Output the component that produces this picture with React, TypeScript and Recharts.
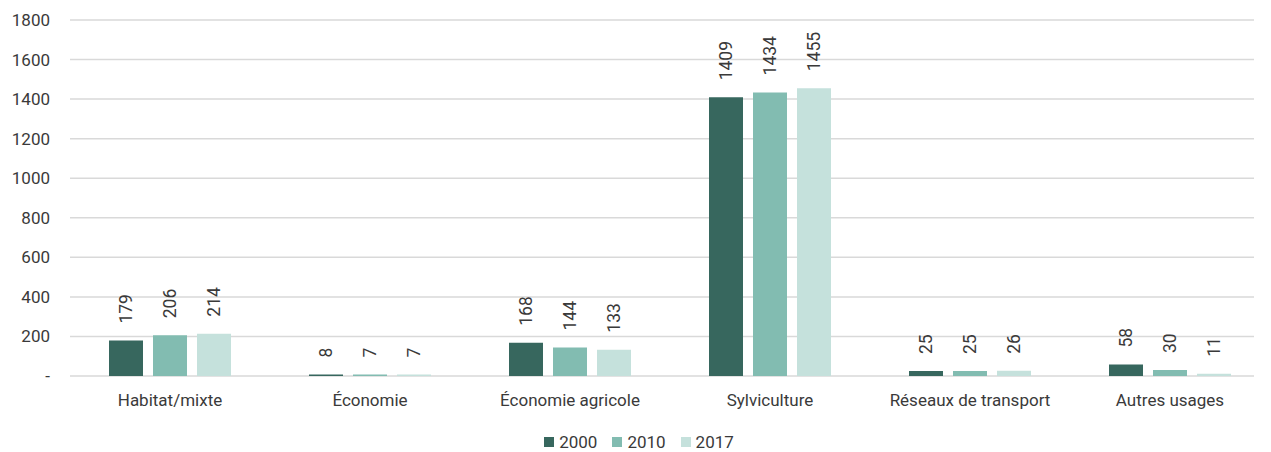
import { BarChart, Bar, XAxis, YAxis, CartesianGrid, Legend, LabelList } from 'recharts';

const categories = [
  'Habitat/mixte',
  'Économie',
  'Économie agricole',
  'Sylviculture',
  'Réseaux de transport',
  'Autres usages',
];
const values2000 = [179, 8, 168, 1409, 25, 58];
const values2010 = [206, 7, 144, 1434, 25, 30];
const values2017 = [214, 7, 133, 1455, 26, 11];
const yTicks = [0, 200, 400, 600, 800, 1000, 1200, 1400, 1600, 1800];

const data = categories.map((name, i) => ({
  name,
  y2000: values2000[i],
  y2010: values2010[i],
  y2017: values2017[i],
}));

const series = [
  { key: 'y2000', label: '2000', color: '#37675e' },
  { key: 'y2010', label: '2010', color: '#82bcb1' },
  { key: 'y2017', label: '2017', color: '#c5e1dc' },
];

const TEXT = '#3a3a3a';
const FONT = 'Roboto, sans-serif';

// rotated value label sitting above the bar
function VerticalLabel(props: any) {
  const { x, y, width, value } = props;
  const cx = x + width / 2;
  const cy = y - 17;
  return (
    <text
      x={cx}
      y={cy}
      transform={`rotate(-90 ${cx} ${cy})`}
      textAnchor="start"
      dominantBaseline="central"
      fontSize={17.5}
      fontFamily={FONT}
      fill={TEXT}
    >
      {value}
    </text>
  );
}

// gridlines stop a little short of the right edge of the plot
function GridLine(props: any) {
  const { x1, x2, y1, y2 } = props;
  return <line x1={x1} x2={x2 - 16} y1={y1} y2={y2} stroke="#d9d9d9" strokeWidth={1.5} />;
}

function LegendContent(props: any) {
  const { payload = [] } = props;
  return (
    <div style={{ display: 'flex', justifyContent: 'center', gap: 15, fontSize: 17, color: TEXT }}>
      {payload.map((p: any) => (
        <div key={p.value} style={{ display: 'flex', alignItems: 'center' }}>
          <span style={{ width: 10, height: 10, background: p.color, marginRight: 5 }} />
          <span>{p.value}</span>
        </div>
      ))}
    </div>
  );
}

export default function App() {
  return (
    <div style={{ width: 1263, height: 444, fontFamily: FONT }}>
      <BarChart
        width={1263}
        height={444}
        data={data}
        margin={{ top: 12, right: 1, left: 0, bottom: 0 }}
        barSize={34}
        barGap={10}
      >
        <CartesianGrid vertical={false} horizontal={GridLine} />
        <XAxis
          dataKey="name"
          axisLine={false}
          tickLine={false}
          tickSize={0}
          tickMargin={18}
          height={56}
          tick={{ fill: TEXT, fontSize: 17, fontFamily: FONT }}
          interval={0}
        />
        <YAxis
          domain={[0, 1800]}
          ticks={yTicks}
          axisLine={false}
          tickLine={false}
          tickSize={0}
          tickMargin={20}
          width={62}
          tick={{ fill: TEXT, fontSize: 17, fontFamily: FONT }}
          tickFormatter={(v: number) => (v === 0 ? '-' : String(v))}
        />
        <Legend verticalAlign="bottom" content={LegendContent} />
        {series.map((s) => (
          <Bar key={s.key} dataKey={s.key} name={s.label} fill={s.color} isAnimationActive={false}>
            <LabelList dataKey={s.key} content={VerticalLabel} />
          </Bar>
        ))}
      </BarChart>
    </div>
  );
}
